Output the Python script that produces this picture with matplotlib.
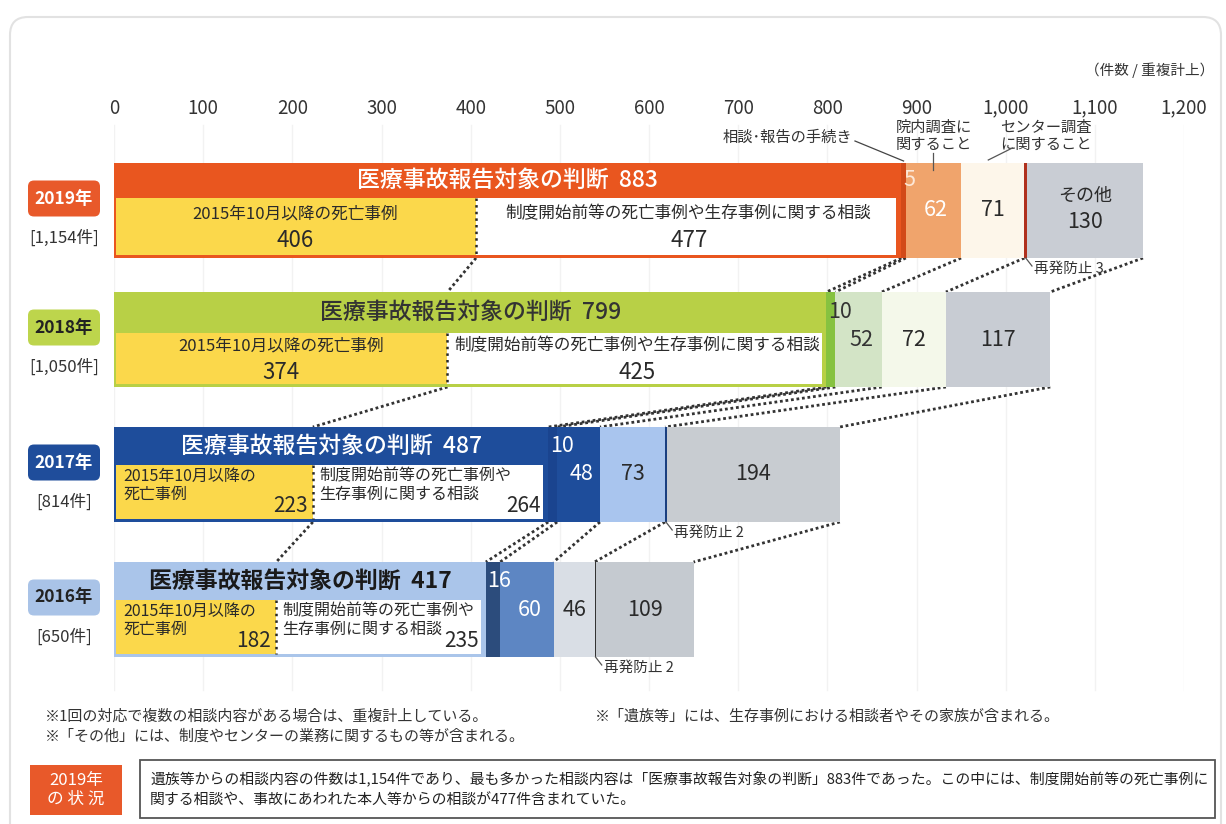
import matplotlib
matplotlib.use('Agg')
import matplotlib.pyplot as plt
from matplotlib.patches import FancyBboxPatch, Rectangle

plt.rcParams['font.family'] = ['Noto Sans CJK JP', 'DejaVu Sans']

# ---- データ ----
years = ['2019年', '2018年', '2017年', '2016年']
totals = ['[1,154件]', '[1,050件]', '[814件]', '[650件]']
judge = [883, 799, 487, 417]            # 医療事故報告対象の判断
death_after = [406, 374, 223, 182]      # 2015年10月以降の死亡事例
before_alive = [477, 425, 264, 235]     # 制度開始前等の死亡事例や生存事例に関する相談
procedure = [5, 10, 10, 16]             # 相談・報告の手続き
hospital = [62, 52, 48, 60]             # 院内調査に関すること
center = [71, 72, 73, 46]               # センター調査に関すること
prevent = [3, 0, 2, 2]                  # 再発防止
others = [130, 117, 194, 109]           # その他
ticks = [0, 100, 200, 300, 400, 500, 600, 700, 800, 900, 1000, 1100, 1200]
tick_labels = ['0', '100', '200', '300', '400', '500', '600', '700', '800',
               '900', '1,000', '1,100', '1,200']

# ---- 配色 ----
main_c = ['#e9561f', '#b8d046', '#1e4d9b', '#aac5ea']
proc_c = ['#d24a18', '#86c240', '#1a448f', '#2c4c7c']
hosp_c = ['#f0a46c', '#d3e4c6', '#1e4d9b', '#5d86c3']
cent_c = ['#fdf6ea', '#f4f8ea', '#a9c5ee', '#d9dee5']
prev_c = ['#b0301c', '#888888', '#1a3f80', '#333333']
oth_c = ['#c9cdd4', '#c8ccd3', '#c8ccd1', '#c5cad0']
head_tc = ['white', '#333333', 'white', '#1a1a1a']
proc_tc = ['#fde8d8', '#333333', 'white', 'white']
hosp_tc = ['white', '#333333', 'white', 'white']
year_bg = ['#e8592a', '#bdd54c', '#1f4d9b', '#a9c3e7']
year_tc = ['white', '#222222', 'white', '#222222']
YELLOW = '#fbd84b'
DARK = '#2a2a2a'

# ---- レイアウト（ピクセル座標）----
bar_top = [163, 292, 427, 562]
bar_h = 95
head_h = [35, 41, 38, 38]
compact = [False, False, True, True]

W, H = 1226, 824
fig = plt.figure(figsize=(W / 100, H / 100), dpi=100)

# 背景用の軸（ピクセル座標）
bg = fig.add_axes([0, 0, 1, 1])
bg.set_xlim(0, W)
bg.set_ylim(H, 0)
bg.axis('off')

# 外枠
bg.add_patch(FancyBboxPatch((10, 17), 1211, 840, boxstyle='round,pad=0,rounding_size=18',
                            fc='none', ec='#e2e2e2', lw=1.5))

# メインの軸
ax_top = 120
ax = fig.add_axes([114 / W, 0, 1070 / W, (H - ax_top) / H])
ax.set_xlim(0, 1200)
ax.set_ylim(H, ax_top)
ax.patch.set_visible(False)
for s in ax.spines.values():
    s.set_visible(False)
ax.set_yticks([])
ax.set_xticks(ticks)
ax.set_xticklabels(tick_labels)
ax.xaxis.tick_top()
ax.tick_params(axis='x', length=0, labelsize=13.5, colors='#333333', pad=1)
for t in ticks:
    ax.plot([t, t], [125, 690], color='#f2f2f2', lw=1, zorder=0)

inset_l, inset_r = 2.5, 5.5
n = len(years)

bounds = []
for i in range(n):
    top = bar_top[i]
    bot = top + bar_h
    yc = top + bar_h / 2
    x0 = judge[i]
    x1 = x0 + procedure[i]
    x2 = x1 + hospital[i]
    x3 = x2 + center[i]
    x4 = x3 + prevent[i]
    x5 = x4 + others[i]
    bounds.append([death_after[i], x0, x1, x2, x3, x5])

    # 積み上げ棒
    ax.barh(yc, judge[i], height=bar_h, left=0, color=main_c[i], zorder=2)
    lefts = [x0, x1, x2, x3, x4]
    widths = [procedure[i], hospital[i], center[i], prevent[i], others[i]]
    cols = [proc_c[i], hosp_c[i], cent_c[i], prev_c[i], oth_c[i]]
    for l, w, c in zip(lefts, widths, cols):
        if w > 0:
            ax.barh(yc, w, height=bar_h, left=l, color=c, zorder=2)

    # 判断の内訳（下段）
    lo_top = top + head_h[i]
    lo_bot = bot - 3
    lo_h = lo_bot - lo_top
    lo_c = (lo_top + lo_bot) / 2
    ax.barh(lo_c, death_after[i] - inset_l, height=lo_h, left=inset_l, color=YELLOW, zorder=2.5)
    ax.barh(lo_c, judge[i] - inset_r - death_after[i], height=lo_h, left=death_after[i],
            color='white', zorder=2.5)
    ax.plot([death_after[i], death_after[i]], [lo_top, lo_bot], ls=':', color=DARK, lw=1.8, zorder=3)

    # 見出し
    ax.text(judge[i] / 2, top + head_h[i] / 2, f'医療事故報告対象の判断  {judge[i]}',
            ha='center', va='center', fontsize=16.5, color=head_tc[i],
            fontweight='bold' if i == 3 else 'medium', zorder=4)

    if not compact[i]:
        ax.text(death_after[i] / 2, lo_c - 13, '2015年10月以降の死亡事例', ha='center', va='center',
                fontsize=12, color=DARK, zorder=4)
        ax.text(death_after[i] / 2, lo_c + 14, str(death_after[i]), ha='center', va='center',
                fontsize=16, color=DARK, zorder=4)
        mid = death_after[i] + (judge[i] - death_after[i]) / 2
        ax.text(mid, lo_c - 13, '制度開始前等の死亡事例や生存事例に関する相談', ha='center', va='center',
                fontsize=12, color=DARK, zorder=4)
        ax.text(mid, lo_c + 14, str(before_alive[i]), ha='center', va='center',
                fontsize=16, color=DARK, zorder=4)
    else:
        # 2行の項目名は1行ずつ置く
        for k, (l1, l2) in enumerate([('2015年10月以降の', '死亡事例'),
                                      ('制度開始前等の死亡事例や', '生存事例に関する相談')]):
            tx = 11 if k == 0 else death_after[i] + 7
            ax.text(tx, lo_top + 11, l1, ha='left', va='center', fontsize=11.5, color=DARK, zorder=4)
            ax.text(tx, lo_top + 29, l2, ha='left', va='center', fontsize=11.5, color=DARK, zorder=4)
        ax.text(death_after[i] - 6, lo_bot - 13, str(death_after[i]), ha='right', va='center',
                fontsize=15, color=DARK, zorder=4)
        ax.text(judge[i] - 8, lo_bot - 13, str(before_alive[i]), ha='right', va='center',
                fontsize=15, color=DARK, zorder=4)

    # 小項目のラベル
    ax.text(x0 + 2, top + head_h[i] / 2, str(procedure[i]), ha='left', va='center',
            fontsize=15.5, color=proc_tc[i], zorder=4)
    ax.text(x1 + hospital[i] / 2 + 3, yc, str(hospital[i]), ha='center', va='center',
            fontsize=15.5, color=hosp_tc[i], zorder=4)
    ax.text(x2 + center[i] / 2, yc, str(center[i]), ha='center', va='center',
            fontsize=15.5, color=DARK, zorder=4)
    if i == 0:
        ax.text(x4 + others[i] / 2, yc - 15, 'その他', ha='center', va='center',
                fontsize=13, color=DARK, zorder=4)
        ax.text(x4 + others[i] / 2, yc + 12, str(others[i]), ha='center', va='center',
                fontsize=15.5, color=DARK, zorder=4)
    else:
        ax.text(x4 + others[i] / 2, yc, str(others[i]), ha='center', va='center',
                fontsize=15.5, color=DARK, zorder=4)

    # 再発防止
    if prevent[i] > 0:
        px = x3 + prevent[i] / 2
        ax.plot([px, px + 7], [bot, bot + 8], color='#555555', lw=0.9, zorder=3)
        ax.text(px + 9, bot + 11, f'再発防止 {prevent[i]}', ha='left', va='center',
                fontsize=10.5, color='#333333', zorder=4)

    # 年ラベル
    by = yc - 12
    bg.add_patch(FancyBboxPatch((28, by - 18), 72, 36, boxstyle='round,pad=0,rounding_size=6',
                                fc=year_bg[i], ec='none'))
    bg.text(64, by, years[i], ha='center', va='center', fontsize=12.5, fontweight='bold',
            color=year_tc[i])
    bg.text(64, yc + 28, totals[i], ha='center', va='center', fontsize=12, color='#333333')

# 年の間をつなぐ点線
for i in range(n - 1):
    y_from = bar_top[i] + bar_h
    y_to = bar_top[i + 1]
    for a, b in zip(bounds[i], bounds[i + 1]):
        ax.plot([a, b], [y_from, y_to], ls=(0, (1, 1)), color='#333333', lw=2, zorder=1)

# 2019年の上の注記
top0 = bar_top[0]
ax.text(judge[0] - 128, 137, '相談･報告の手続き', ha='center', va='center', fontsize=11,
        color='#333333', zorder=4)
ax.plot([judge[0] - 52, judge[0] + procedure[0] / 2], [141, top0 - 2], color='#444444', lw=0.9)
hx = judge[0] + procedure[0] + hospital[0] / 2
ax.text(hx, 136, '院内調査に\n関すること', ha='center', va='center', fontsize=11,
        color='#333333', linespacing=1.0, zorder=4)
ax.plot([hx, hx], [153, 170], color='#555555', lw=0.9, zorder=4)
cx = judge[0] + procedure[0] + hospital[0] + center[0] / 2
ax.text(cx + 60, 136, 'センター調査\nに関すること', ha='center', va='center', fontsize=11,
        color='#333333', linespacing=1.0, zorder=4)
ax.plot([cx - 5, cx + 22], [160, 148], color='#555555', lw=0.9, zorder=4)

# 単位
bg.text(1214, 70, '（件数 / 重複計上）', ha='right', va='center', fontsize=10.5, color='#333333')

# 脚注
bg.text(45, 717, '※1回の対応で複数の相談内容がある場合は、重複計上している。', ha='left', va='center',
        fontsize=10.8, color='#333333')
bg.text(45, 737, '※「その他」には、制度やセンターの業務に関するもの等が含まれる。', ha='left', va='center',
        fontsize=10.8, color='#333333')
bg.text(595, 717, '※「遺族等」には、生存事例における相談者やその家族が含まれる。', ha='left', va='center',
        fontsize=10.8, color='#333333')

# 2019年の状況
bg.add_patch(Rectangle((30, 765), 92, 50, fc='#e8592a', ec='none'))
bg.text(76, 790, '2019年\nの 状 況', ha='center', va='center', fontsize=12, color='white',
        linespacing=1.2)
bg.add_patch(Rectangle((140, 760), 1075, 58, fc='white', ec='#555555', lw=1.3))
bg.text(150, 779, '遺族等からの相談内容の件数は1,154件であり、最も多かった相談内容は「医療事故報告対象の判断」'
        '883件であった。この中には、制度開始前等の死亡事例に', ha='left', va='center', fontsize=10.7,
        color='#222222')
bg.text(150, 801, '関する相談や、事故にあわれた本人等からの相談が477件含まれていた。', ha='left', va='center',
        fontsize=10.7, color='#222222')

fig.savefig('out.png', dpi=100)
